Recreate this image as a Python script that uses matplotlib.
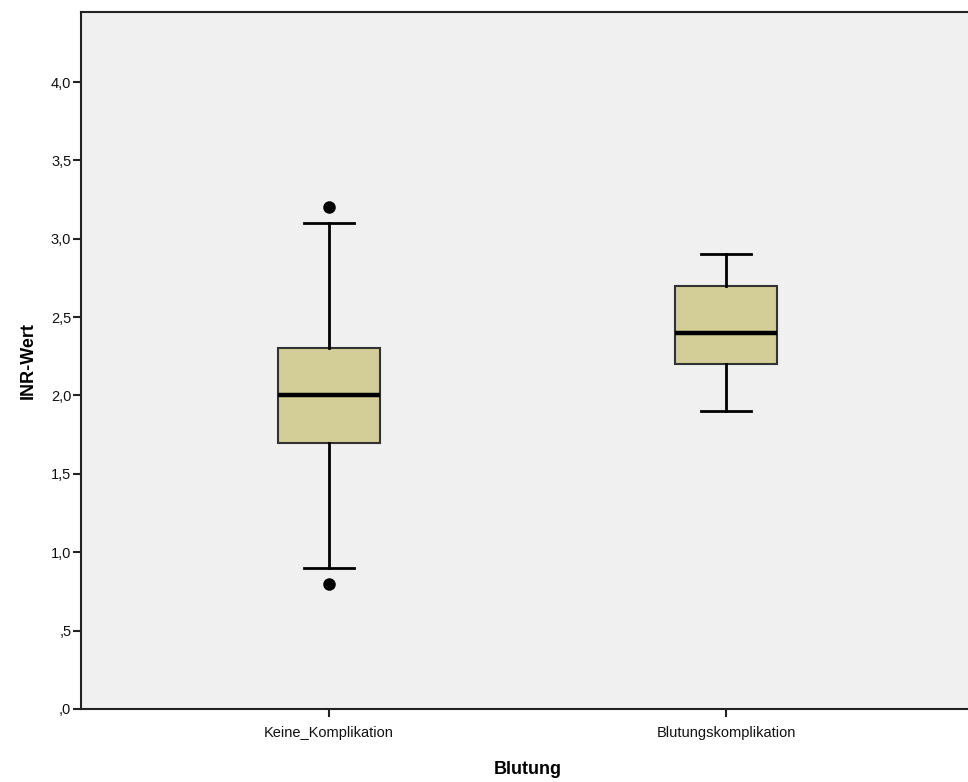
import matplotlib
matplotlib.use("Agg")
import matplotlib.pyplot as plt
from matplotlib.ticker import FuncFormatter

# INR-Werte je Gruppe (Boxplot-Kennwerte)
groups = ["Keine_Komplikation", "Blutungskomplikation"]
q1 = [1.7, 2.2]
median = [2.0, 2.4]
q3 = [2.3, 2.7]
whisker_lo = [0.9, 1.9]
whisker_hi = [3.1, 2.9]
outliers = [[0.8, 3.2], []]

yticks = [0.0, 0.5, 1.0, 1.5, 2.0, 2.5, 3.0, 3.5, 4.0]

plt.rcParams['font.family'] = ['Liberation Sans', 'DejaVu Sans']


def de_fmt(v, pos):
    s = ("%.1f" % v).replace(".", ",")
    return s.lstrip("0") if v < 1 else s


stats = []
for i, name in enumerate(groups):
    stats.append({
        "label": name,
        "q1": q1[i], "med": median[i], "q3": q3[i],
        "whislo": whisker_lo[i], "whishi": whisker_hi[i],
        "fliers": outliers[i],
    })

fig = plt.figure(figsize=(9.68, 7.82), dpi=100)
ax = fig.add_axes([0.0837, 0.0934, 0.9225, 0.8913])
ax.set_facecolor("#f0f0f0")

ax.bxp(stats, positions=[1, 2], widths=0.255, patch_artist=True,
       boxprops=dict(facecolor="#d3ce97", edgecolor="#333333", linewidth=1.5),
       medianprops=dict(color="black", linewidth=3.2),
       whiskerprops=dict(color="black", linewidth=2),
       capprops=dict(color="black", linewidth=2),
       capwidths=0.128,
       flierprops=dict(marker="o", markerfacecolor="black",
                       markeredgecolor="black", markersize=8))

ax.set_xlim(0.375, 2.625)
ax.set_ylim(0, 4.447)
ax.set_yticks(yticks)
ax.yaxis.set_major_formatter(FuncFormatter(de_fmt))
ax.set_xticks([1, 2])
ax.set_xticklabels(groups)

for side in ["left", "top", "bottom"]:
    ax.spines[side].set_color("#222222")
    ax.spines[side].set_linewidth(1.5)
ax.spines["right"].set_visible(False)

ax.tick_params(axis="both", direction="out", length=6, width=1.5,
               color="#222222", labelsize=10.5, labelcolor="#111111")
ax.tick_params(axis="x", pad=6)
ax.tick_params(axis="y", pad=1)

ax.set_ylabel("INR-Wert", fontsize=13, fontweight="bold", labelpad=10)
ax.set_xlabel("Blutung", fontsize=13, fontweight="bold")
ax.xaxis.set_label_coords(0.5, -0.0875)
ax.xaxis.label.set_va("center")

fig.savefig("out.png", dpi=100)
